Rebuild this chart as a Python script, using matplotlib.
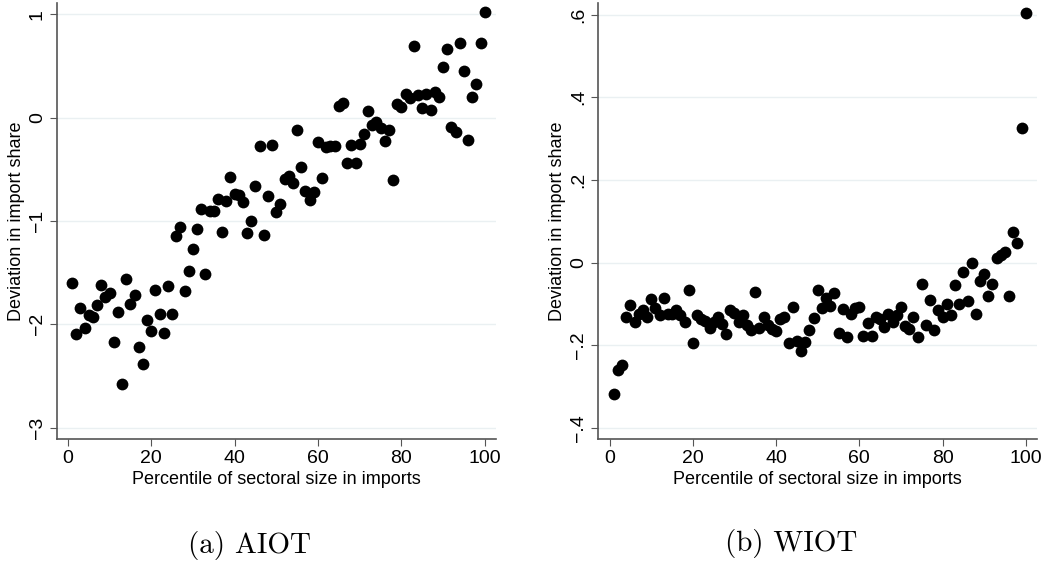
import matplotlib
matplotlib.use("Agg")
import matplotlib.pyplot as plt

# percentile of sectoral size in imports (1..100)
pct = list(range(1, 101))

# (a) AIOT: deviation in import share
aiot = [-1.60, -2.09, -1.84, -2.04, -1.91, -1.93, -1.81, -1.62, -1.74, -1.70,
        -2.17, -1.88, -2.58, -1.56, -1.80, -1.72, -2.22, -2.38, -1.96, -2.06,
        -1.67, -1.90, -2.08, -1.63, -1.90, -1.15, -1.06, -1.68, -1.48, -1.27,
        -1.08, -0.88, -1.51, -0.90, -0.90, -0.79, -1.11, -0.81, -0.57, -0.74,
        -0.75, -0.82, -1.12, -1.00, -0.66, -0.27, -1.14, -0.76, -0.26, -0.91,
        -0.84, -0.59, -0.56, -0.63, -0.12, -0.48, -0.71, -0.80, -0.72, -0.24,
        -0.58, -0.28, -0.27, -0.27, 0.11, 0.14, -0.44, -0.26, -0.44, -0.25,
        -0.16, 0.06, -0.07, -0.04, -0.10, -0.23, -0.12, -0.60, 0.13, 0.10,
        0.23, 0.19, 0.69, 0.22, 0.09, 0.23, 0.07, 0.25, 0.20, 0.49,
        0.66, -0.09, -0.14, 0.72, 0.45, -0.22, 0.20, 0.33, 0.72, 1.02]

# (b) WIOT: deviation in import share
wiot = [-0.318, -0.261, -0.247, -0.132, -0.103, -0.144, -0.125, -0.116, -0.132, -0.088,
        -0.110, -0.127, -0.085, -0.125, -0.125, -0.116, -0.128, -0.143, -0.067, -0.194,
        -0.128, -0.137, -0.142, -0.159, -0.143, -0.132, -0.148, -0.174, -0.116, -0.122,
        -0.144, -0.127, -0.151, -0.164, -0.071, -0.159, -0.132, -0.151, -0.160, -0.166,
        -0.136, -0.131, -0.194, -0.108, -0.189, -0.215, -0.193, -0.164, -0.134, -0.066,
        -0.110, -0.086, -0.105, -0.073, -0.171, -0.112, -0.181, -0.124, -0.110, -0.107,
        -0.177, -0.146, -0.178, -0.133, -0.136, -0.155, -0.124, -0.144, -0.126, -0.107,
        -0.154, -0.160, -0.132, -0.179, -0.053, -0.152, -0.091, -0.164, -0.115, -0.132,
        -0.101, -0.126, -0.055, -0.101, -0.024, -0.092, -0.002, -0.124, -0.045, -0.027,
        -0.082, -0.051, 0.011, 0.019, 0.025, -0.081, 0.073, 0.047, 0.326, 0.605]

x_ticks = [0, 20, 40, 60, 80, 100]
aiot_yticks = [-3, -2, -1, 0, 1]
aiot_ylabels = ["\u22123", "\u22122", "\u22121", "0", "1"]
wiot_yticks = [-0.4, -0.2, 0, 0.2, 0.4, 0.6]
wiot_ylabels = ["\u2212.4", "\u2212.2", "0", ".2", ".4", ".6"]

plt.rcParams['font.family'] = ['Liberation Sans', 'DejaVu Sans']

W, H = 1046, 566
fig = plt.figure(figsize=(W / 100, H / 100), dpi=100)

def px_axes(l, t, r, b):
    return fig.add_axes([l / W, 1 - b / H, (r - l) / W, (b - t) / H])

def style(ax, yt, yl):
    ax.set_xticks(x_ticks)
    ax.set_yticks(yt)
    ax.set_yticklabels(yl, rotation=90, va='center')
    ax.grid(axis='y', color='#eaf0f2', lw=1.0)
    ax.set_axisbelow(True)
    for s in ['top', 'right']:
        ax.spines[s].set_visible(False)
    for s in ['left', 'bottom']:
        ax.spines[s].set_color('#555555')
        ax.spines[s].set_linewidth(1.2)
    ax.tick_params(direction='out', length=5, color='#555555', labelsize=14, pad=3)
    ax.set_xlabel("Percentile of sectoral size in imports", fontsize=13, labelpad=3)
    ax.set_ylabel("Deviation in import share", fontsize=13, labelpad=3)

ax1 = px_axes(57, 3, 496, 439)
ax1.plot(pct, aiot, 'o', color='black', ms=8.5, mew=0)
ax1.set_xlim(-2.6, 102.7)
ax1.set_ylim(-3.11, 1.11)
style(ax1, aiot_yticks, aiot_ylabels)

ax2 = px_axes(598, 3, 1037, 439)
ax2.plot(pct, wiot, 'o', color='black', ms=8.5, mew=0)
ax2.set_xlim(-2.8, 102.7)
ax2.set_ylim(-0.427, 0.628)
style(ax2, wiot_yticks, wiot_ylabels)

fig.text(250 / W, 1 - 545 / H, "(a) AIOT", family='cmr10', fontsize=21, ha='center', va='center')
fig.text(791 / W, 1 - 543 / H, "(b) WIOT", family='cmr10', fontsize=21, ha='center', va='center')

fig.savefig("out.png", dpi=100)
